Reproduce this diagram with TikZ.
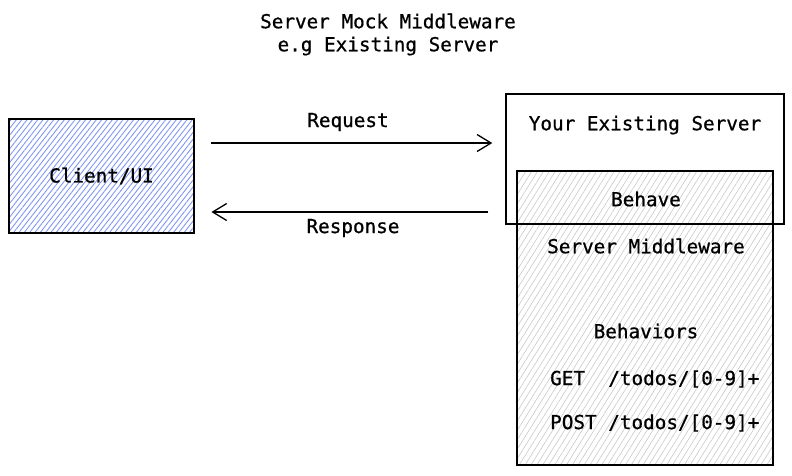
\documentclass[tikz,border=0pt]{standalone}
\usepackage{fontspec}
\setmonofont[RawFeature={embolden=0.8}]{DejaVu Sans Mono}
\usetikzlibrary{arrows.meta, patterns.meta}
\definecolor{hatchblue}{RGB}{130,150,240}
\definecolor{hatchgray}{RGB}{200,200,200}
\tikzset{
  box/.style={
    draw,
    line width=1.4pt,
    minimum width=#1,
  },
  client box/.style={
    box=185pt,
    minimum height=114pt,
    pattern={Lines[angle=52,distance=4.2pt,line width=0.9pt]},
    pattern color=hatchblue,
  },
  mw box/.style={
    box=256pt,
    minimum height=294pt,
    pattern={Lines[angle=58,distance=5pt,line width=0.6pt]},
    pattern color=hatchgray,
  },
  label/.style={
    font=\ttfamily\fontsize{19.3}{23}\selectfont,
    inner sep=0pt,
  },
  flow/.style={
    line width=1.3pt,
    -{Straight Barb[length=14pt,width=17pt,line width=1.3pt]},
  },
}

\begin{document}
\begin{tikzpicture}[x=1pt, y=-1pt]
      \useasboundingbox (0,0) rectangle (792,475);

      % title
      \node[label] (title1) at (388,21) {Server Mock Middleware};
      \node[label] (title2) at (388,46) {e.g Existing Server};

      % boxes
      \node[client box, label] (client) at (101.5,176) {Client/UI};
      \node[mw box] (mw) at (645,318) {};
      \node[box=278pt, minimum height=130pt] (server) at (645,159) {};
      \draw[line width=1.4pt] (mw.north west) rectangle (mw.south east);

      \node[label] (servertxt) at (645,125) {Your Existing Server};
      \node[label] (behave)    at (646,199) {Behave};
      \node[label] (mwtxt)     at (646,246) {Server Middleware};
      \node[label] (behaviors) at (646,331) {Behaviors};
      \node[label, anchor=west] (get)  at (550,379) {GET\ \ /todos/[0-9]+};
      \node[label, anchor=west] (post) at (550,423) {POST /todos/[0-9]+};

      % connectors
      \coordinate (req) at (0,143);
      \coordinate (res) at (0,212);
      \draw[flow, shorten <=17pt, shorten >=13pt] (client.east |- req) -- (server.west |- req);
      \draw[flow, shorten <=17pt, shorten >=17pt] (server.west |- res) -- (client.east |- res);

      \node[label] (reqtxt) at (348,122) {Request};
      \node[label] (restxt) at (353,228) {Response};
    \end{tikzpicture}
\end{document}
